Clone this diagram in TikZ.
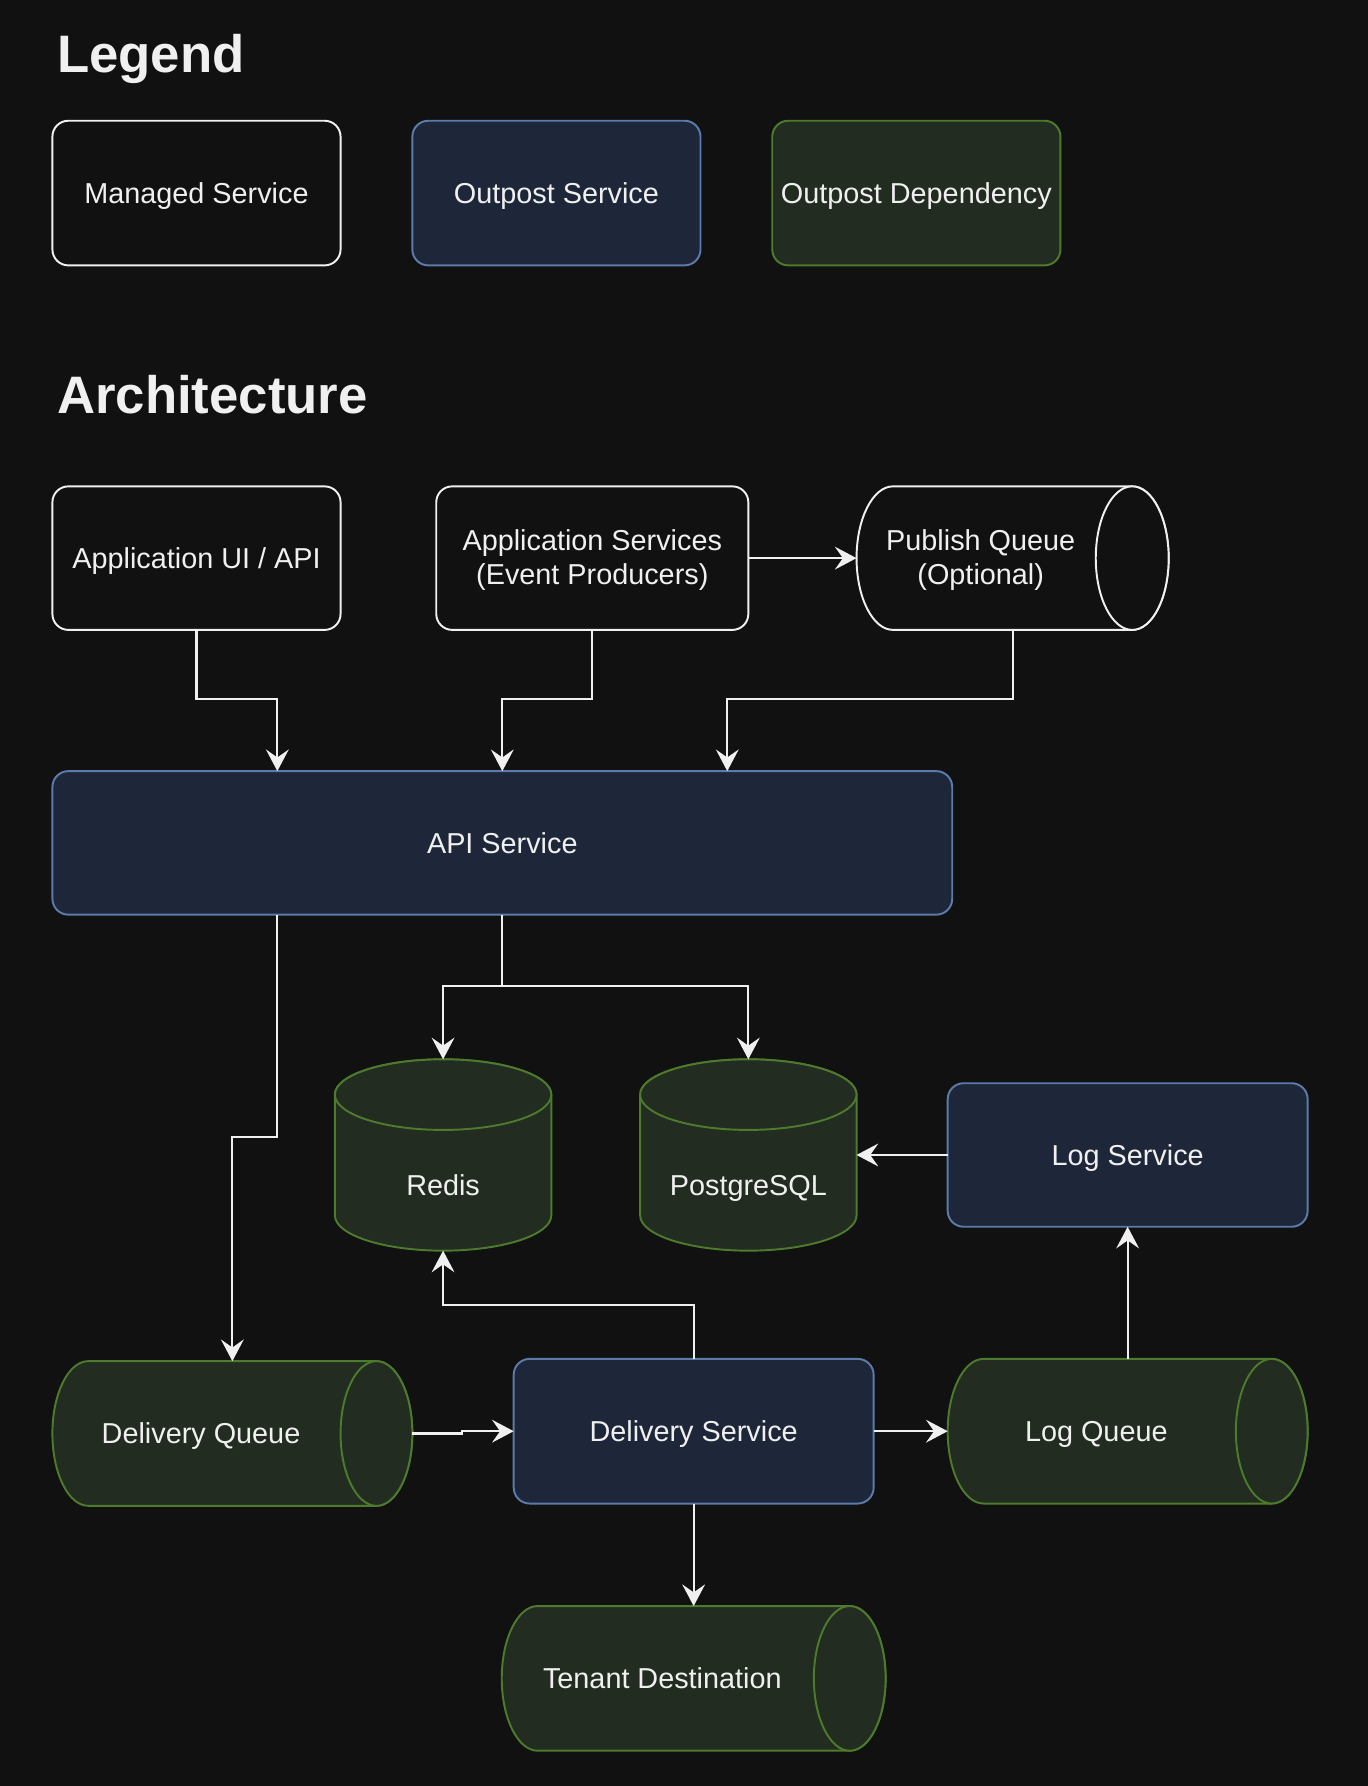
\documentclass[tikz,border=0pt]{standalone}
\usepackage{fontspec}
\setmainfont{Liberation Sans}
\usetikzlibrary{arrows.meta,calc}
\definecolor{bg}{HTML}{111111}
\definecolor{fg}{HTML}{F0F0F0}
\definecolor{navyfill}{HTML}{1E2739}
\definecolor{navyline}{HTML}{5B7BAA}
\definecolor{grnfill}{HTML}{222C20}
\definecolor{grnline}{HTML}{4D7A2C}
\newcommand\hcyl[4]{%
 \path[#4] ([xshift=#2]#1.north west) -- ([xshift=-#2]#1.north east) arc[start angle=90,end angle=-90,x radius=#2,y radius=#3] -- ([xshift=#2]#1.south west) arc[start angle=270,end angle=90,x radius=#2,y radius=#3] -- cycle;
 \path[#4] ([xshift=-#2]#1.east) ellipse[x radius=#2,y radius=#3];}
\newcommand\vcyl[4]{%
 \path[#4] ([yshift=-#3]#1.north west) -- ([yshift=#3]#1.south west) arc[start angle=180,end angle=360,x radius=#2,y radius=#3] -- ([yshift=-#3]#1.north east) arc[start angle=0,end angle=180,x radius=#2,y radius=#3] -- cycle;
 \path[#4] ([yshift=-#3]#1.north) ellipse[x radius=#2,y radius=#3];}
\begin{document}
\begin{tikzpicture}[x=1pt,y=1pt,
 box/.style={rectangle,rounded corners=14pt,line width=1.7pt,inner sep=0pt,outer sep=0pt,minimum height=126pt,text=fg,font=\fontsize{25.3}{30}\selectfont,align=center},
 one/.style={text height=18pt,text depth=0pt},
 managed/.style={box,draw=fg,fill=bg},
 outpost/.style={box,draw=navyline,fill=navyfill},
 dep/.style={box,draw=grnline,fill=grnfill},
 ph/.style={rectangle,inner sep=0pt,outer sep=0pt},
 lbl/.style={text=fg,font=\fontsize{25.3}{30}\selectfont,align=center,inner sep=0pt},
 ttl/.style={text=fg,font=\fontsize{46.3}{55}\selectfont\bfseries,inner sep=0pt,anchor=base west},
 arr/.style={draw=fg,line width=1.8pt,-{Stealth[length=19pt,width=20pt,inset=7pt]}},
 cylmanaged/.style={draw=fg,fill=bg,line width=1.7pt},
 cyldep/.style={draw=grnline,fill=grnfill,line width=1.7pt}]
\fill[bg] (0,0) rectangle (1201,-1568);
\useasboundingbox (0,0) rectangle (1201,-1568);

% Legend
\node[ttl] (legendT) at (50,-64) {Legend};
\node[managed,one,minimum width=253pt,minimum height=127pt] (mgd) at (172.5,-169.5) {Managed Service};
\node[outpost,one,minimum width=253pt,minimum height=127pt] (ops) at (488.5,-169.5) {Outpost Service};
\node[dep,one,minimum width=253pt,minimum height=127pt] (odep) at (804.5,-169.5) {Outpost Dependency};

% Architecture
\node[ttl] (archT) at (50,-363) {Architecture};

\node[managed,one,minimum width=253pt] (appui) at (172.5,-490) {Application UI / API};
\node[managed,minimum width=274pt] (appsvc) at (520,-490) {\rule{0pt}{22pt}Application Services\\(Event Producers)};
\node[ph,minimum width=274pt,minimum height=126pt] (pq) at (889,-490) {};
\hcyl{pq}{32pt}{63pt}{cylmanaged}
\node[lbl] (pqT) at ([xshift=-28pt,yshift=-1.5pt]pq.center) {Publish Queue\\(Optional)};

\node[outpost,one,minimum width=790pt] (api) at (441,-740) {API Service};

\node[ph,minimum width=190pt,minimum height=168pt] (redis) at (389,-1014) {};
\vcyl{redis}{95pt}{31pt}{cyldep}
\node[lbl,one] (redisT) at ([yshift=-27pt]redis.center) {Redis};
\node[ph,minimum width=190pt,minimum height=168pt] (pg) at (657,-1014) {};
\vcyl{pg}{95pt}{31pt}{cyldep}
\node[lbl,one] (pgT) at ([yshift=-27pt]pg.center) {PostgreSQL};

\node[outpost,one,minimum width=316pt] (logsvc) at (990,-1014) {Log Service};

\node[ph,minimum width=316pt,minimum height=127pt] (dq) at (204,-1258.5) {};
\hcyl{dq}{31.5pt}{63.5pt}{cyldep}
\node[lbl,one] (dqT) at ([xshift=-27.5pt]dq.center) {Delivery Queue};

\node[outpost,one,minimum width=316pt,minimum height=127pt] (ds) at (609,-1256.5) {Delivery Service};

\node[ph,minimum width=316pt,minimum height=127pt] (lq) at (990,-1256.5) {};
\hcyl{lq}{31.5pt}{63.5pt}{cyldep}
\node[lbl,one] (lqT) at ([xshift=-27.5pt]lq.center) {Log Queue};

\node[ph,minimum width=337pt,minimum height=127pt] (td) at (609,-1473.5) {};
\hcyl{td}{31.5pt}{63.5pt}{cyldep}
\node[lbl,one] (tdT) at ([xshift=-27.5pt]td.center) {Tenant Destination};

% Connectors
\coordinate (apiA) at ($(api.north west)!0.25!(api.north east)$);
\coordinate (apiC) at ($(api.north west)!0.75!(api.north east)$);
\coordinate (apiS) at ($(api.south west)!0.25!(api.south east)$);
\draw[arr] (appui.south) -- ++(0,-61) -| (apiA);
\draw[arr] (appsvc.south) -- ++(0,-61) -| (api.north);
\draw[arr] (appsvc.east) -- (pq.west);
\draw[arr] (pq.south) -- ++(0,-61) -| (apiC);
\draw[arr] (api.south) -- ++(0,-63) -| (redis.north);
\draw[arr] (api.south) -- ++(0,-63) -| (pg.north);
\draw[arr] (apiS) -- ++(0,-195) -| (dq.north);
\draw[arr] (logsvc.west) -- (pg.east);
\draw[arr] (ds.north) -- ++(0,47) -| (redis.south);
\draw[arr] (dq.east) -- ++(44,0) |- (ds.west);
\draw[arr] (ds.east) -- (lq.west);
\draw[arr] (lq.north) -- (logsvc.south);
\draw[arr] (ds.south) -- (td.north);
\end{tikzpicture}
\end{document}
